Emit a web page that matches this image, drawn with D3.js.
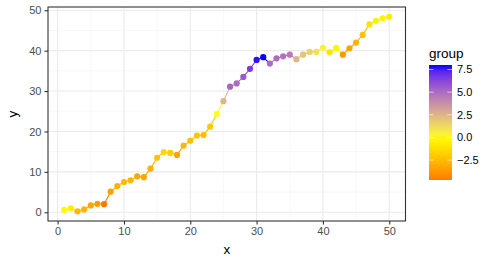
<!DOCTYPE html>
<html>
<head>
<meta charset="utf-8">
<script src="https://cdn.jsdelivr.net/npm/d3@7"></script>
<style>
  body { margin: 0; background: #fff; }
  text { font-family: "Liberation Sans", Arial, sans-serif; }
</style>
</head>
<body>
<svg id="chart" width="493" height="262"></svg>
<script>
const xValues = d3.range(1, 51)
const yValues = [
  0.6, 1.0, 0.25, 0.7, 1.7, 2.1, 2.0, 5.1, 6.5, 7.5,
  7.9, 8.9, 8.7, 10.8, 13.5, 14.9, 14.7, 14.2, 16.5, 17.7,
  19.0, 19.1, 21.2, 24.3, 27.5, 31.1, 31.9, 33.5, 35.5, 37.7,
  38.4, 36.8, 38.1, 38.6, 39.0, 37.9, 39.0, 39.7, 39.7, 40.7,
  39.6, 40.7, 39.0, 40.6, 42.0, 43.9, 46.5, 47.4, 48.0, 48.4,
]
const groupValues = [
  -0.2, -0.7, -2.6, -2.8, -3.2, -3.6, -4.7, -3.4, -2.8, -2.5,
  -2.6, -3.2, -3.3, -2.8, -2.2, -1.5, -1.8, -3.3, -2.6, -2.3,
  -2.2, -2.4, -2.0, 0.2, 2.5, 5.2, 5.0, 5.6, 6.6, 7.8,
  8.0, 5.0, 5.0, 4.8, 4.5, 2.5, 2.0, 1.5, 1.0, 0.4,
  -1.0, -0.3, -3.8, -3.3, -2.8, -2.3, -1.0, -0.6, -0.4, -0.8,
]
const xTicks = [0, 10, 20, 30, 40, 50]
const yTicks = [0, 10, 20, 30, 40, 50]
const legendTicks = [-2.5, 0.0, 2.5, 5.0, 7.5]

const data = xValues.map((x, i) => ({ x: x, y: yValues[i], g: groupValues[i] }))

const svg = d3.select("#chart")
const panel = { left: 48, right: 405.5, top: 7, bottom: 221 }

const xExt = d3.extent(xValues)
const yExt = d3.extent(yValues)
const xPad = (xExt[1] - xExt[0]) * 0.05
const yPad = (yExt[1] - yExt[0]) * 0.05

const x = d3.scaleLinear()
  .domain([xExt[0] - xPad, xExt[1] + xPad])
  .range([panel.left, panel.right])
const y = d3.scaleLinear()
  .domain([yExt[0] - yPad, yExt[1] + yPad])
  .range([panel.bottom, panel.top])

const gExt = d3.extent(groupValues)
const color = d3.scaleLinear()
  .domain([gExt[0], 0, 8])
  .range(["#FF7A00", "yellow", "blue"])
  .interpolate(d3.interpolateLab)

// grid
const grid = svg.append("g")
const minorX = xTicks.slice(0, -1).map((d) => d + 5)
const minorY = yTicks.slice(0, -1).map((d) => d + 5)
grid.selectAll(".minx").data(minorX).enter().append("line")
  .attr("x1", (d) => x(d)).attr("x2", (d) => x(d))
  .attr("y1", panel.top).attr("y2", panel.bottom)
  .attr("stroke", "#F2F2F2").attr("stroke-width", 0.55)
grid.selectAll(".miny").data(minorY).enter().append("line")
  .attr("x1", panel.left).attr("x2", panel.right)
  .attr("y1", (d) => y(d)).attr("y2", (d) => y(d))
  .attr("stroke", "#F2F2F2").attr("stroke-width", 0.55)
grid.selectAll(".majx").data(xTicks).enter().append("line")
  .attr("x1", (d) => x(d)).attr("x2", (d) => x(d))
  .attr("y1", panel.top).attr("y2", panel.bottom)
  .attr("stroke", "#EBEBEB").attr("stroke-width", 1.1)
grid.selectAll(".majy").data(yTicks).enter().append("line")
  .attr("x1", panel.left).attr("x2", panel.right)
  .attr("y1", (d) => y(d)).attr("y2", (d) => y(d))
  .attr("stroke", "#EBEBEB").attr("stroke-width", 1.1)

// line segments coloured by the starting point
const segs = d3.pairs(data)
svg.append("g").selectAll("line").data(segs).enter().append("line")
  .attr("x1", (d) => x(d[0].x)).attr("y1", (d) => y(d[0].y))
  .attr("x2", (d) => x(d[1].x)).attr("y2", (d) => y(d[1].y))
  .attr("stroke", (d) => color(d[0].g))
  .attr("stroke-width", 1.1)

svg.append("g").selectAll("circle").data(data).enter().append("circle")
  .attr("cx", (d) => x(d.x))
  .attr("cy", (d) => y(d.y))
  .attr("r", 3.1)
  .attr("fill", (d) => color(d.g))

// panel border
svg.append("rect")
  .attr("x", panel.left).attr("y", panel.top)
  .attr("width", panel.right - panel.left).attr("height", panel.bottom - panel.top)
  .attr("fill", "none").attr("stroke", "#333333").attr("stroke-width", 1.1)

// axes
const xAxis = svg.append("g")
  .attr("transform", `translate(0,${panel.bottom})`)
  .call(d3.axisBottom(x).tickValues(xTicks).tickSize(3.5).tickPadding(3))
const yAxis = svg.append("g")
  .attr("transform", `translate(${panel.left},0)`)
  .call(d3.axisLeft(y).tickValues(yTicks).tickSize(3.5).tickPadding(3))
for (const ax of [xAxis, yAxis]) {
  ax.select(".domain").remove()
  ax.selectAll(".tick line").attr("stroke", "#333333").attr("stroke-width", 1.1)
  ax.selectAll(".tick text").attr("fill", "#4D4D4D").style("font-size", "11px")
}

svg.append("text")
  .attr("x", (panel.left + panel.right) / 2).attr("y", 254)
  .attr("text-anchor", "middle").style("font-size", "13.5px")
  .text("x")
svg.append("text")
  .attr("transform", `translate(17,${(panel.top + panel.bottom) / 2}) rotate(-90)`)
  .attr("text-anchor", "middle").style("font-size", "13.5px")
  .text("y")

// legend
const leg = { x: 429, top: 65, bottom: 180, w: 23 }
const lg = d3.scaleLinear().domain(gExt).range([leg.bottom, leg.top])
const grad = svg.append("defs").append("linearGradient")
  .attr("id", "grad").attr("x1", 0).attr("x2", 0).attr("y1", 1).attr("y2", 0)
grad.selectAll("stop").data(d3.range(0, 1.0001, 0.05)).enter().append("stop")
  .attr("offset", (d) => d)
  .attr("stop-color", (d) => color(gExt[0] + d * (gExt[1] - gExt[0])))
svg.append("rect")
  .attr("x", leg.x).attr("y", leg.top)
  .attr("width", leg.w).attr("height", leg.bottom - leg.top)
  .attr("fill", "url(#grad)")
const lt = svg.append("g").selectAll("g").data(legendTicks).enter().append("g")
lt.append("line")
  .attr("x1", leg.x).attr("x2", leg.x + 4.6)
  .attr("y1", (d) => lg(d)).attr("y2", (d) => lg(d))
  .attr("stroke", "white").attr("stroke-width", 0.6)
lt.append("line")
  .attr("x1", leg.x + leg.w - 4.6).attr("x2", leg.x + leg.w)
  .attr("y1", (d) => lg(d)).attr("y2", (d) => lg(d))
  .attr("stroke", "white").attr("stroke-width", 0.6)
lt.append("text")
  .attr("x", leg.x + leg.w + 5).attr("y", (d) => lg(d))
  .attr("dy", "0.35em").style("font-size", "11px").attr("fill", "black")
  .text((d) => d3.format(".1f")(d))
svg.append("text")
  .attr("x", leg.x).attr("y", 58)
  .style("font-size", "13.5px")
  .text("group")
</script>
</body>
</html>
